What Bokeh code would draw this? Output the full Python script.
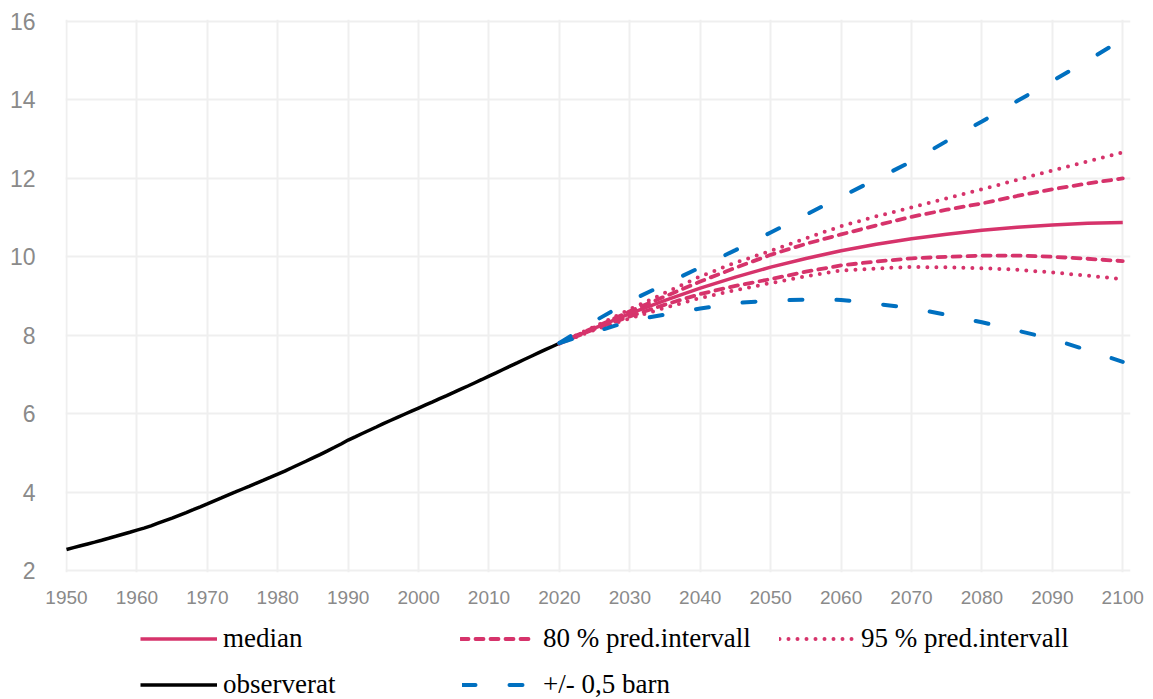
from bokeh.plotting import figure
from bokeh.layouts import column
from bokeh.models import Legend, LegendItem, FixedTicker, Range1d
from bokeh.embed import file_html
from bokeh.resources import INLINE

# ---- data (world population, billions) ----
obs_years = list(range(1950, 2021))
observed = [2.536, 2.584, 2.631, 2.678, 2.725, 2.773, 2.822, 2.873, 2.925, 2.977,
            3.032, 3.083, 3.140, 3.207, 3.274, 3.339, 3.409, 3.478, 3.551, 3.625,
            3.700, 3.777, 3.852, 3.928, 4.003, 4.079, 4.153, 4.229, 4.304, 4.380,
            4.458, 4.537, 4.620, 4.704, 4.786, 4.871, 4.957, 5.046, 5.136, 5.228,
            5.327, 5.410, 5.494, 5.577, 5.660, 5.744, 5.825, 5.906, 5.985, 6.064,
            6.143, 6.222, 6.301, 6.381, 6.461, 6.542, 6.624, 6.706, 6.789, 6.872,
            6.957, 7.041, 7.126, 7.211, 7.295, 7.380, 7.464, 7.548, 7.631, 7.713,
            7.795]

proj_years = list(range(2020, 2101, 5))
median = [7.795, 8.184, 8.548, 8.888, 9.199, 9.482, 9.735, 9.958, 10.152, 10.318,
          10.459, 10.577, 10.674, 10.750, 10.810, 10.852, 10.875]
pi80_upper = [7.80, 8.20, 8.61, 8.99, 9.37, 9.72, 10.05, 10.33, 10.57, 10.80,
              11.02, 11.20, 11.36, 11.55, 11.72, 11.87, 12.00]
pi80_lower = [7.79, 8.16, 8.48, 8.78, 9.05, 9.26, 9.43, 9.62, 9.78, 9.88,
              9.96, 10.00, 10.03, 10.03, 10.00, 9.95, 9.89]
pi95_upper = [7.80, 8.22, 8.66, 9.08, 9.50, 9.85, 10.15, 10.47, 10.78, 11.03,
              11.26, 11.49, 11.72, 11.96, 12.20, 12.43, 12.66]
pi95_lower = [7.79, 8.14, 8.43, 8.70, 8.95, 9.15, 9.33, 9.50, 9.65, 9.70,
              9.74, 9.73, 9.71, 9.67, 9.60, 9.52, 9.43]
high_var = [7.80, 8.36, 8.87, 9.30, 9.73, 10.17, 10.62, 11.07, 11.53, 11.98,
            12.43, 12.95, 13.45, 13.97, 14.48, 15.00, 15.55]
low_var = [7.80, 8.08, 8.36, 8.53, 8.68, 8.82, 8.88, 8.91, 8.90, 8.80,
           8.69, 8.52, 8.33, 8.12, 7.90, 7.62, 7.32]

x_ticks = list(range(1950, 2101, 10))
y_ticks = list(range(2, 17, 2))

labels = ["median", "80 % pred.intervall", "95 % pred.intervall",
          "observerat", "+/- 0,5 barn"]

PINK = "#D6336B"
BLUE = "#0070C0"

STYLES = {
    "obs": dict(line_color="black", line_width=3.5),
    "med": dict(line_color=PINK, line_width=3.5),
    "p80": dict(line_color=PINK, line_width=3.8, line_dash="8 7", line_cap="round"),
    "p95": dict(line_color=PINK, line_width=4, line_dash="0 9", line_cap="round"),
    "var": dict(line_color=BLUE, line_width=4, line_dash="13 34", line_cap="round"),
}
SERIES = {
    "obs": (obs_years, observed),
    "med": (proj_years, median),
    "p80": (proj_years, pi80_upper),
    "p95": (proj_years, pi95_upper),
    "var": (proj_years, high_var),
}

W = 1145
p = figure(width=W, height=612,
           x_range=Range1d(1949.86, 2101.1), y_range=Range1d(1.95, 16.05),
           output_backend="svg", toolbar_location=None,
           min_border_left=65, min_border_right=15,
           min_border_top=19, min_border_bottom=40)
p.outline_line_color = None
p.background_fill_color = "white"

p.xaxis.ticker = FixedTicker(ticks=x_ticks)
p.yaxis.ticker = FixedTicker(ticks=y_ticks)
for g in (p.xgrid, p.ygrid):
    g.grid_line_color = "#EFEFEF"
    g.grid_line_width = 2
for ax in (p.xaxis, p.yaxis):
    ax.axis_line_color = None
    ax.major_tick_line_color = None
    ax.minor_tick_line_color = None
    ax.major_tick_out = 0
    ax.major_tick_in = 0
    ax.major_label_text_font = "Liberation Sans"
    ax.major_label_text_color = "#8A8A8A"
p.xaxis.major_label_text_font_size = "19px"
p.yaxis.major_label_text_font_size = "23px"
p.xaxis.major_label_standoff = 18
p.yaxis.major_label_standoff = 30

p.line(obs_years, observed, **STYLES["obs"])
p.line(proj_years, pi95_upper, **STYLES["p95"])
p.line(proj_years, pi95_lower, **STYLES["p95"])
p.line(proj_years, pi80_upper, **STYLES["p80"])
p.line(proj_years, pi80_lower, **STYLES["p80"])
p.line(proj_years, median, **STYLES["med"])
p.line(proj_years, high_var, **STYLES["var"])
p.line(proj_years, low_var, **STYLES["var"])

# ---- legend strip below the chart (its frame is aligned with the chart's) ----
L = figure(width=W, height=87, x_range=Range1d(0, 1), y_range=Range1d(0, 1),
           output_backend="svg", toolbar_location=None,
           min_border_left=65, min_border_right=15,
           min_border_top=0, min_border_bottom=0)
L.outline_line_color = None
L.xaxis.visible = False
L.yaxis.visible = False
L.xgrid.visible = False
L.ygrid.visible = False

legend_specs = [
    (labels[0], "med", 75, 45, 77, 6),
    (labels[1], "p80", 395, 45, 75, 8),
    (labels[2], "p95", 714, 45, 75, 7),
    (labels[3], "obs", 75, -1, 77, 6),
    (labels[4], "var", 397, -1, 73, 8),
]
for lab, key, vx, vy, gw, ls in legend_specs:
    xs, ys = SERIES[key]
    r = L.line(xs, ys, **STYLES[key])   # out of this strip's range: legend swatch only
    leg = Legend(items=[LegendItem(label=lab, renderers=[r])],
                 location=(vx, vy), orientation="horizontal",
                 glyph_width=gw, glyph_height=27, label_height=27,
                 label_standoff=ls, padding=0, margin=0, spacing=0,
                 border_line_color=None, background_fill_alpha=0,
                 label_text_font="Liberation Serif",
                 label_text_font_size="27px", label_text_color="black")
    L.add_layout(leg)

layout = column(p, L, spacing=0)
open("out.html", "w").write(file_html(layout, INLINE))
